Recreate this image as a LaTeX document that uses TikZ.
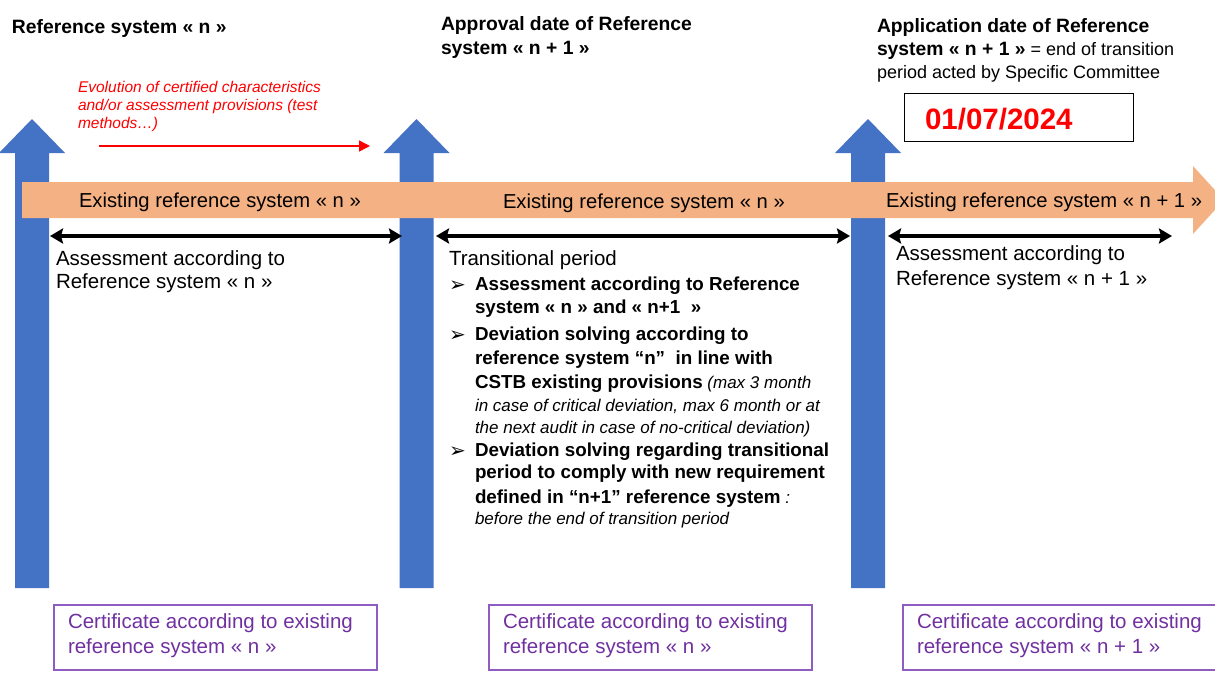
\documentclass[tikz,border=0pt]{standalone}
\usepackage{fontspec}
\setmainfont{Liberation Sans}
\newfontfamily\dejavu{DejaVu Sans}
\usetikzlibrary{arrows.meta}
\definecolor{myblue}{HTML}{4472C4}
\definecolor{myorange}{HTML}{F4B183}
\definecolor{mypurple}{HTML}{7030A0}
\definecolor{boxpurple}{HTML}{8F5CC2}
\definecolor{myred}{HTML}{FF0000}
\newcommand\fsz[1]{\fontsize{#1}{#1}\selectfont}
\begin{document}
\begin{tikzpicture}[x=1pt,y=-1pt,
  txt/.style={anchor=base west,inner sep=0pt,outer sep=0pt},
  head/.style={txt,font=\bfseries\fsz{19.3}},
  small/.style={txt,font=\fsz{18}},
  reg/.style={txt,font=\fsz{20.5}},
  band/.style={txt,font=\fsz{20.2}},
  bld/.style={txt,font=\bfseries\fsz{18.8}},
  itl/.style={txt,font=\itshape\fsz{17}},
  redtxt/.style={txt,font=\itshape\fsz{15.5},text=myred},
  bullet/.style={txt,font=\dejavu\fsz{20}},
  certtxt/.style={txt,font=\fsz{20.5},text=mypurple},
  certbox/.style={draw=boxpurple,line width=1.5pt,anchor=north west,inner sep=0pt,minimum width=323pt,minimum height=65pt},
  span/.style={line width=3.6pt,{Stealth[length=13pt,width=15pt,inset=2pt]}-{Stealth[length=13pt,width=15pt,inset=2pt]}}
]
\useasboundingbox (0,0) rectangle (1215,675);
% blue upward arrows
\foreach \cx in {32,416.5,868} {
  \fill[myblue] (\cx-17,588) -- (\cx-17,153) -- (\cx-33,153) -- (\cx,119)
     -- (\cx+33,153) -- (\cx+17,153) -- (\cx+17,588) -- cycle;
}
% orange timeline arrow
\fill[myorange] (22,182) -- (1193,182) -- (1193,166) -- (1224,200)
   -- (1193,234) -- (1193,218) -- (22,218) -- cycle;
% headers
\node[head] (h1) at (12,33) {Reference system « n »};
\node[head] (h2a) at (441,30) {Approval date of Reference};
\node[head] (h2b) at (441,54) {system « n + 1 »};
\node[head] (h3a) at (877,32) {Application date of Reference};
\node[txt] (h3b) at (877,55) {{\bfseries\fsz{19.3}system « n + 1 »}{\fsz{18} = end of transition}};
\node[small] (h3c) at (877,78) {period acted by Specific Committee};
% red evolution note
\node[redtxt] (r1) at (78,92) {Evolution of certified characteristics};
\node[redtxt] (r2) at (78,110) {and/or assessment provisions (test};
\node[redtxt] (r3) at (78,128) {methods…)};
\coordinate (ra) at (99,146);
\coordinate (rb) at (370,146);
\draw[myred,line width=1.5pt,-{Triangle[length=11pt,width=11pt]}] (ra) -- (rb);
% date box
\node[draw=black,line width=1.3pt,anchor=north west,minimum width=229pt,minimum height=48pt,inner sep=0pt] (datebox) at (904,93) {};
\node[txt,font=\bfseries\fsz{29.5},text=myred] (date) at (925,129) {01/07/2024};
% band labels
\node[band] (b1) at (79,207) {Existing reference system « n »};
\node[band] (b2) at (503,208) {Existing reference system « n »};
\node[band] (b3) at (886,207) {Existing reference system « n + 1 »};
% spans
\coordinate (s1a) at (50,236);  \coordinate (s1b) at (402,236);
\coordinate (s2a) at (436,236); \coordinate (s2b) at (850,236);
\coordinate (s3a) at (888,236); \coordinate (s3b) at (1172,236);
\draw[span] (s1a) -- (s1b);
\draw[span] (s2a) -- (s2b);
\draw[span] (s3a) -- (s3b);
% assessment texts
\node[reg] (a1) at (56,265) {Assessment according to};
\node[reg] (a2) at (56,288) {Reference system « n »};
\node[reg] (a3) at (896,260) {Assessment according to};
\node[reg] (a4) at (896,285) {Reference system « n + 1 »};
% transitional period
\node[reg] (t0) at (449,265) {Transitional period};
\node[bullet] (k1) at (449,291) {➢};
\node[bullet] (k2) at (449,341) {➢};
\node[bullet] (k3) at (449,457) {➢};
\node[bld] (t1) at (475,290) {Assessment according to Reference};
\node[bld] (t2) at (475,313) {system « n » and « n+1 \ »};
\node[bld] (t3) at (475,340) {Deviation solving according to};
\node[bld] (t4) at (475,364) {reference system “n” \ in line with};
\node[txt] (t5) at (475,388) {{\bfseries\fsz{18.8}CSTB existing provisions}{\itshape\fsz{17} (max 3 month}};
\node[itl] (t6) at (475,411) {in case of critical deviation, max 6 month or at};
\node[itl] (t7) at (475,433) {the next audit in case of no-critical deviation)};
\node[bld] (t8) at (475,456) {Deviation solving regarding transitional};
\node[bld] (t9) at (475,478) {period to comply with new requirement};
\node[txt] (t10) at (475,503) {{\bfseries\fsz{18.8}defined in “n+1” reference system}{\itshape\fsz{17} :}};
\node[itl] (t11) at (475,524) {before the end of transition period};
% certificate boxes
\node[certbox] (c1) at (53,604) {};
\node[certbox] (c2) at (488,604) {};
\node[certbox] (c3) at (902,604) {};
\node[certtxt] (c1a) at (68,628) {Certificate according to existing};
\node[certtxt] (c1b) at (68,653) {reference system « n »};
\node[certtxt] (c2a) at (503,628) {Certificate according to existing};
\node[certtxt] (c2b) at (503,653) {reference system « n »};
\node[certtxt] (c3a) at (917,628) {Certificate according to existing};
\node[certtxt] (c3b) at (917,653) {reference system « n + 1 »};
\end{tikzpicture}
\end{document}
